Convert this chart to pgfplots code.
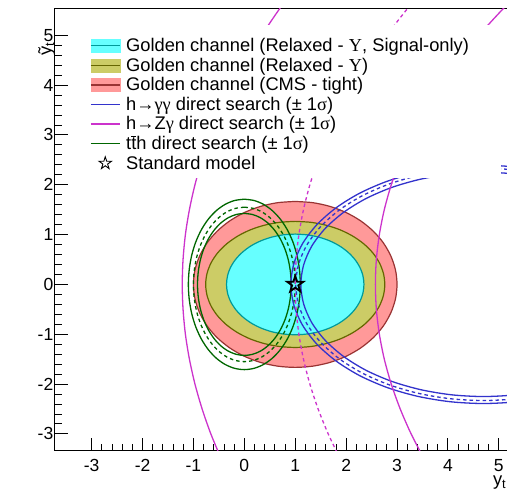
\documentclass[border=0pt]{standalone}
\usepackage{pgfplots}
\pgfplotsset{compat=1.18}
\usepackage{fontspec}
\setmainfont{Liberation Sans}
\newfontfamily\grk{Liberation Serif}

\definecolor{cyanfill}{RGB}{102,255,255}
\definecolor{cyanline}{RGB}{0,153,153}
\definecolor{olivefill}{RGB}{204,204,102}
\definecolor{oliveline}{RGB}{102,102,0}
\definecolor{redfill}{RGB}{255,153,153}
\definecolor{redline}{RGB}{153,51,51}
\definecolor{bluec}{RGB}{51,51,204}
\definecolor{magc}{RGB}{204,51,204}
\definecolor{greenc}{RGB}{0,102,0}

% open five-pointed star
\pgfdeclareplotmark{ostar}{%
  \pgfpathmoveto{\pgfpointpolar{90}{\pgfplotmarksize}}%
  \pgfpathlineto{\pgfpointpolar{126}{0.382\pgfplotmarksize}}%
  \pgfpathlineto{\pgfpointpolar{162}{\pgfplotmarksize}}%
  \pgfpathlineto{\pgfpointpolar{198}{0.382\pgfplotmarksize}}%
  \pgfpathlineto{\pgfpointpolar{234}{\pgfplotmarksize}}%
  \pgfpathlineto{\pgfpointpolar{270}{0.382\pgfplotmarksize}}%
  \pgfpathlineto{\pgfpointpolar{306}{\pgfplotmarksize}}%
  \pgfpathlineto{\pgfpointpolar{342}{0.382\pgfplotmarksize}}%
  \pgfpathlineto{\pgfpointpolar{18}{\pgfplotmarksize}}%
  \pgfpathlineto{\pgfpointpolar{54}{0.382\pgfplotmarksize}}%
  \pgfpathclose
  \pgfusepathqstroke
}

\begin{document}
\begin{tikzpicture}
\begin{axis}[
    scale only axis,
    width=454pt, height=442.7pt,
    xmin=-3.72, xmax=5.2,
    ymin=-3.337, ymax=5.547,
    xtick={-3,-2,-1,0,1,2,3,4,5},
    xticklabels={-3,-2,-1,0,1,2,3,4,5},
    ytick={-3,-2,-1,0,1,2,3,4,5},
    yticklabels={-3,-2,-1,0,1,2,3,4,5},
    minor x tick num=4,
    minor y tick num=4,
    tick pos=left,
    tick align=inside,
    major tick length=13pt,
    minor tick length=7pt,
    every tick/.style={black, line width=0.9pt},
    axis line style={line width=1pt},
    ticklabel style={font=\fontsize{17.5}{17.5}\selectfont, inner sep=0pt},
    xticklabel style={yshift=-8.3pt},
    yticklabel style={xshift=-1.5pt},
    xlabel={y\textsubscript{t}},
    ylabel={ỹ\textsubscript{t}},
    label style={font=\fontsize{18.3}{20}\selectfont, inner sep=0pt},
    xlabel style={at={(axis description cs:1,0)}, anchor=base east, yshift=-35pt, xshift=-2.5pt},
    ylabel style={at={(axis description cs:0,1)}, anchor=base east, xshift=-34.3pt, yshift=3.5pt},
    legend cell align=left,
    legend style={at={(axis cs:-3.031,4.971)}, anchor=north west,
        draw=none, fill=none, inner sep=0pt, outer sep=0pt,
        row sep=1.6pt, column sep=5.7pt,
        font=\fontsize{18.3}{20}\selectfont,
        nodes={inner sep=0pt, text height=14.7pt, text depth=3.3pt}},
]

% golden channel, CMS tight
\addplot[forget plot, smooth, fill=redfill, draw=redline, line width=1.2pt] coordinates {
(1,1.665) (0.653,1.640) (0.316,1.565) (0,1.442) (-0.286,1.275) (-0.532,1.070) (-0.732,0.833) (-0.879,0.569) (-0.970,0.289) (-1,0) (-0.970,-0.289) (-0.879,-0.569) (-0.732,-0.833) (-0.532,-1.070) (-0.286,-1.275) (0,-1.442) (0.316,-1.565) (0.653,-1.640) (1,-1.665) (1.347,-1.640) (1.684,-1.565) (2,-1.442) (2.286,-1.275) (2.532,-1.070) (2.732,-0.833) (2.879,-0.569) (2.970,-0.289) (3,0) (2.970,0.289) (2.879,0.569) (2.732,0.833) (2.532,1.070) (2.286,1.275) (2,1.442) (1.684,1.565) (1.347,1.640) (1,1.665)};

% golden channel, relaxed
\addplot[forget plot, smooth, fill=olivefill, draw=oliveline, line width=1.2pt] coordinates {
(1,1.265) (0.694,1.246) (0.398,1.189) (0.12,1.096) (-0.131,0.969) (-0.348,0.813) (-0.524,0.633) (-0.654,0.433) (-0.733,0.220) (-0.76,0) (-0.733,-0.220) (-0.654,-0.433) (-0.524,-0.633) (-0.348,-0.813) (-0.131,-0.969) (0.12,-1.096) (0.398,-1.189) (0.694,-1.246) (1,-1.265) (1.306,-1.246) (1.602,-1.189) (1.88,-1.096) (2.131,-0.969) (2.348,-0.813) (2.524,-0.633) (2.654,-0.433) (2.733,-0.220) (2.76,0) (2.733,0.220) (2.654,0.433) (2.524,0.633) (2.348,0.813) (2.131,0.969) (1.88,1.096) (1.602,1.189) (1.306,1.246) (1,1.265)};

% golden channel, relaxed, signal only
\addplot[forget plot, smooth, fill=cyanfill, draw=cyanline, line width=1.2pt] coordinates {
(1,1.01) (0.766,0.995) (0.538,0.949) (0.325,0.875) (0.132,0.774) (-0.034,0.649) (-0.169,0.505) (-0.269,0.345) (-0.330,0.175) (-0.35,0) (-0.330,-0.175) (-0.269,-0.345) (-0.169,-0.505) (-0.034,-0.649) (0.132,-0.774) (0.325,-0.875) (0.538,-0.949) (0.766,-0.995) (1,-1.01) (1.234,-0.995) (1.462,-0.949) (1.675,-0.875) (1.868,-0.774) (2.034,-0.649) (2.169,-0.505) (2.269,-0.345) (2.330,-0.175) (2.35,0) (2.330,0.175) (2.269,0.345) (2.169,0.505) (2.034,0.649) (1.868,0.774) (1.675,0.875) (1.462,0.949) (1.234,0.995) (1,1.01)};

% tth
\addplot[forget plot, smooth, draw=greenc, line width=1.3pt] coordinates {
(0,1.71) (-0.191,1.684) (-0.376,1.607) (-0.55,1.481) (-0.707,1.310) (-0.843,1.099) (-0.953,0.855) (-1.034,0.585) (-1.083,0.297) (-1.1,0) (-1.083,-0.297) (-1.034,-0.585) (-0.953,-0.855) (-0.843,-1.099) (-0.707,-1.310) (-0.55,-1.481) (-0.376,-1.607) (-0.191,-1.684) (0,-1.71) (0.191,-1.684) (0.376,-1.607) (0.55,-1.481) (0.707,-1.310) (0.843,-1.099) (0.953,-0.855) (1.034,-0.585) (1.083,-0.297) (1.1,0) (1.083,0.297) (1.034,0.585) (0.953,0.855) (0.843,1.099) (0.707,1.310) (0.55,1.481) (0.376,1.607) (0.191,1.684) (0,1.71)};
\addplot[forget plot, smooth, draw=greenc, line width=1.3pt, dash pattern=on 3.5pt off 3pt] coordinates {
(0,1.55) (-0.174,1.526) (-0.342,1.457) (-0.5,1.342) (-0.643,1.187) (-0.766,0.996) (-0.866,0.775) (-0.940,0.530) (-0.985,0.269) (-1,0) (-0.985,-0.269) (-0.940,-0.530) (-0.866,-0.775) (-0.766,-0.996) (-0.643,-1.187) (-0.5,-1.342) (-0.342,-1.457) (-0.174,-1.526) (0,-1.55) (0.174,-1.526) (0.342,-1.457) (0.5,-1.342) (0.643,-1.187) (0.766,-0.996) (0.866,-0.775) (0.940,-0.530) (0.985,-0.269) (1,0) (0.985,0.269) (0.940,0.530) (0.866,0.775) (0.766,0.996) (0.643,1.187) (0.5,1.342) (0.342,1.457) (0.174,1.526) (0,1.55)};
\addplot[forget plot, smooth, draw=greenc, line width=1.3pt] coordinates {
(0,1.425) (-0.160,1.403) (-0.315,1.339) (-0.46,1.234) (-0.591,1.092) (-0.705,0.916) (-0.797,0.713) (-0.865,0.487) (-0.906,0.247) (-0.92,0) (-0.906,-0.247) (-0.865,-0.487) (-0.797,-0.713) (-0.705,-0.916) (-0.591,-1.092) (-0.46,-1.234) (-0.315,-1.339) (-0.160,-1.403) (0,-1.425) (0.160,-1.403) (0.315,-1.339) (0.46,-1.234) (0.591,-1.092) (0.705,-0.916) (0.797,-0.713) (0.865,-0.487) (0.906,-0.247) (0.92,0) (0.906,0.247) (0.865,0.487) (0.797,0.713) (0.705,0.916) (0.591,1.092) (0.46,1.234) (0.315,1.339) (0.160,1.403) (0,1.425)};

% h -> gamma gamma
\addplot[forget plot, smooth, draw=bluec, line width=1.3pt] coordinates {
(6.495,1.949) (5.928,2.114) (5.323,2.216) (4.7,2.25) (4.077,2.216) (3.472,2.114) (2.905,1.949) (2.392,1.724) (1.95,1.446) (1.591,1.125) (1.326,0.770) (1.165,0.391) (1.11,0) (1.165,-0.391) (1.326,-0.770) (1.591,-1.125) (1.95,-1.446) (2.392,-1.724) (2.905,-1.949) (3.472,-2.114) (4.077,-2.216) (4.7,-2.25) (5.323,-2.216) (5.928,-2.114) (6.495,-1.949)};
\addplot[forget plot, smooth, draw=bluec, line width=1.3pt, dash pattern=on 3.5pt off 3pt] coordinates {
(6.545,2.018) (5.962,2.190) (5.341,2.295) (4.7,2.33) (4.059,2.295) (3.438,2.190) (2.855,2.018) (2.328,1.785) (1.873,1.498) (1.504,1.165) (1.232,0.797) (1.066,0.404) (1.01,0) (1.066,-0.404) (1.232,-0.797) (1.504,-1.165) (1.873,-1.498) (2.328,-1.785) (2.855,-2.018) (3.438,-2.190) (4.059,-2.295) (4.7,-2.33) (5.341,-2.295) (5.962,-2.190) (6.545,-2.018)};
\addplot[forget plot, smooth, draw=bluec, line width=1.3pt] coordinates {
(6.593,2.07) (5.994,2.246) (5.357,2.354) (4.7,2.39) (4.043,2.354) (3.406,2.246) (2.807,2.07) (2.267,1.831) (1.801,1.536) (1.422,1.195) (1.143,0.817) (0.973,0.415) (0.915,0) (0.973,-0.415) (1.143,-0.817) (1.422,-1.195) (1.801,-1.536) (2.267,-1.831) (2.807,-2.07) (3.406,-2.246) (4.043,-2.354) (4.7,-2.39) (5.357,-2.354) (5.994,-2.246) (6.593,-2.07)};

% h -> Z gamma
\addplot[forget plot, smooth, draw=magc, line width=1.3pt] coordinates {
(-0.454,-3.5) (-0.658,-3) (-0.829,-2.5) (-0.97,-2) (-1.079,-1.5) (-1.158,-1) (-1.204,-0.5) (-1.22,0) (-1.204,0.5) (-1.158,1) (-1.079,1.5) (-0.97,2) (-0.829,2.5) (-0.658,3) (-0.454,3.5) (-0.22,4) (0.046,4.5) (0.343,5) (0.671,5.5) (1.03,6)};
\addplot[forget plot, smooth, draw=magc, line width=1.3pt, dash pattern=on 3.5pt off 3pt] coordinates {
(1.882,-3.5) (1.648,-3) (1.45,-2.5) (1.288,-2) (1.162,-1.5) (1.072,-1) (1.018,-0.5) (1,0) (1.018,0.5) (1.072,1) (1.162,1.5) (1.288,2) (1.45,2.5) (1.648,3) (1.882,3.5) (2.152,4) (2.458,4.5) (2.8,5) (3.178,5.5) (3.592,6)};
\addplot[forget plot, smooth, draw=magc, line width=1.3pt] coordinates {
(3.53,-3.5) (3.277,-3) (3.063,-2.5) (2.887,-2) (2.75,-1.5) (2.653,-1) (2.594,-0.5) (2.575,0) (2.594,0.5) (2.653,1) (2.75,1.5) (2.887,2) (3.063,2.5) (3.277,3) (3.53,3.5) (3.855,4) (4.215,4.5) (4.61,5) (5.055,5.5) (5.53,6)};

% standard model
\addplot[forget plot, only marks, mark=ostar, mark size=8.5pt, line width=1.8pt, black] coordinates {(1,0)};

% legend background
\fill[white] (axis cs:-3.23,2.135) rectangle (axis cs:5.04,5.206);

\addlegendimage{legend image code/.code={\fill[cyanfill] (0pt,-6.6pt) rectangle (29pt,6.6pt); \draw[cyanline,line width=1.2pt] (0pt,0pt)--(29pt,0pt);}}
\addlegendentry{Golden channel (Relaxed - {\grk Υ}, Signal-only)}
\addlegendimage{legend image code/.code={\fill[olivefill] (0pt,-6.6pt) rectangle (29pt,6.6pt); \draw[oliveline,line width=1.2pt] (0pt,0pt)--(29pt,0pt);}}
\addlegendentry{Golden channel (Relaxed - {\grk Υ})}
\addlegendimage{legend image code/.code={\fill[redfill] (0pt,-6.6pt) rectangle (29pt,6.6pt); \draw[redline,line width=1.2pt] (0pt,0pt)--(29pt,0pt);}}
\addlegendentry{Golden channel (CMS - tight)}
\addlegendimage{legend image code/.code={\draw[bluec,line width=1.4pt] (0pt,0pt)--(29pt,0pt);}}
\addlegendentry{h→{\grk γγ} direct search (± 1{\grk σ})}
\addlegendimage{legend image code/.code={\draw[magc,line width=1.4pt] (0pt,0pt)--(29pt,0pt);}}
\addlegendentry{h→Z{\grk γ} direct search (± 1{\grk σ})}
\addlegendimage{legend image code/.code={\draw[greenc,line width=1.4pt] (0pt,0pt)--(29pt,0pt);}}
\addlegendentry{t$\overline{\mbox{t}}$h direct search (± 1{\grk σ})}
\addlegendimage{legend image code/.code={\draw[black,line width=0.9pt] (14.5pt,6.5pt) -- (13.042pt,2.006pt) -- (8.318pt,2.009pt) -- (12.141pt,-0.766pt) -- (10.679pt,-5.259pt) -- (14.5pt,-2.48pt) -- (18.321pt,-5.259pt) -- (16.859pt,-0.766pt) -- (20.682pt,2.009pt) -- (15.958pt,2.006pt) -- cycle;}}
\addlegendentry{Standard model}
\end{axis}
\pgfresetboundingbox
\path (-55pt,-42.3pt) rectangle (452pt,450.7pt);
\end{tikzpicture}
\end{document}
